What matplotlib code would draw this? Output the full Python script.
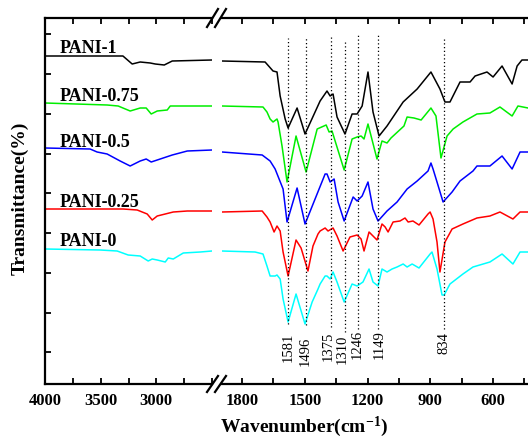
import matplotlib
matplotlib.use("Agg")
import matplotlib.pyplot as plt
from matplotlib.lines import Line2D
from matplotlib.ticker import MultipleLocator

plt.rcParams['font.family'] = ['Liberation Serif', 'DejaVu Serif']
plt.rcParams['mathtext.fontset'] = 'custom'
plt.rcParams['mathtext.rm'] = 'Liberation Serif:bold'
plt.rcParams['mathtext.bf'] = 'Liberation Serif:bold'
plt.rcParams['mathtext.default'] = 'bf'

# ---- data, transmittance in arbitrary units ----
names = ['PANI-1', 'PANI-0.75', 'PANI-0.5', 'PANI-0.25', 'PANI-0']
colors = ['black', '#00ee00', '#0000ff', '#ff0000', '#00ffff']

# high wavenumber part (4000 - 2500)
pani1_hi_wn = [4000, 3300, 3217, 3145, 3055, 3010, 2929, 2857, 2500]
pani1_hi_t = [328, 328, 320, 322, 321, 320, 319, 323, 324]
pani075_hi_wn = [4000, 3442, 3343, 3235, 3145, 3091, 3046, 2992, 2902, 2875, 2500]
pani075_hi_t = [281, 279, 278, 273, 276, 276, 270, 273, 274, 278, 278]
pani05_hi_wn = [4000, 3595, 3532, 3442, 3325, 3235, 3145, 3091, 3046, 2992, 2857, 2722, 2500]
pani05_hi_t = [236, 235, 232, 230, 223, 218, 223, 225, 222, 224, 229, 233, 234]
pani025_hi_wn = [4000, 3298, 3172, 3082, 3037, 2992, 2920, 2848, 2722, 2500]
pani025_hi_t = [175, 175, 174, 170, 164, 168, 170, 172, 173, 173]
pani0_hi_wn = [4000, 3505, 3352, 3253, 3145, 3073, 3037, 2992, 2920, 2893, 2848, 2758, 2605, 2500]
pani0_hi_t = [135, 134, 133, 129, 128, 123, 125, 124, 122, 126, 125, 131, 132, 133]

# fingerprint part (1900 - 430)
pani1_lo_wn = [1896, 1690, 1652, 1633, 1618, 1594, 1580, 1537, 1499, 1427,
               1394, 1379, 1365, 1346, 1308, 1274, 1250, 1226, 1198, 1174,
               1145, 1107, 1030, 963, 897, 854, 830, 806, 758, 710,
               686, 629, 600, 557, 509, 485, 462, 433]
pani1_lo_t = [323, 322, 313, 312, 288, 265, 256, 276, 250, 283,
              293, 288, 290, 267, 250, 270, 270, 278, 312, 272,
              248, 258, 282, 295, 312, 295, 282, 282, 302, 302,
              308, 312, 307, 318, 300, 318, 324, 324]
pani075_lo_wn = [1896, 1700, 1681, 1666, 1652, 1633, 1628, 1609, 1585, 1542,
                 1494, 1441, 1398, 1384, 1370, 1312, 1274, 1250, 1231, 1217,
                 1198, 1155, 1131, 1107, 1088, 1026, 1011, 978, 944, 897,
                 873, 849, 820, 791, 744, 677, 615, 567, 509, 481, 433]
pani075_lo_t = [278, 277, 272, 265, 262, 265, 262, 238, 202, 248,
                212, 255, 259, 252, 253, 214, 245, 247, 248, 245,
                260, 225, 243, 241, 246, 258, 267, 266, 264, 276,
                268, 226, 248, 255, 262, 270, 271, 277, 268, 278, 276]
pani05_lo_wn = [1896, 1704, 1666, 1642, 1604, 1585, 1537, 1499, 1451, 1403, 1394, 1379,
                1360, 1341, 1312, 1269, 1250, 1226, 1198, 1174, 1150, 1107,
                1059, 1011, 963, 911, 897, 887, 868, 839, 796, 758,
                696, 677, 615, 557, 509, 471, 433]
pani05_lo_t = [232, 229, 223, 215, 195, 162, 196, 160, 185, 210, 210, 202,
               205, 182, 163, 187, 183, 188, 202, 175, 163, 173,
               182, 195, 203, 213, 221, 215, 202, 182, 192, 203,
               213, 218, 218, 228, 215, 232, 232]
pani025_lo_wn = [1896, 1704, 1681, 1666, 1647, 1633, 1618, 1604, 1580, 1542,
                 1518, 1485, 1461, 1437, 1427, 1403, 1389, 1365, 1346, 1317,
                 1284, 1250, 1231, 1217, 1193, 1174, 1155, 1131, 1116, 1102,
                 1078, 1045, 1021, 1006, 983, 954, 911, 901, 887, 868,
                 854, 830, 796, 744, 677, 615, 567, 505, 471, 433]
pani025_lo_t = [172, 173, 167, 162, 152, 158, 153, 132, 108, 144,
                136, 113, 138, 150, 153, 156, 153, 156, 148, 133,
                147, 149, 145, 133, 152, 148, 144, 160, 157, 152,
                162, 163, 166, 162, 163, 159, 170, 172, 165, 142,
                112, 142, 155, 160, 166, 168, 172, 165, 172, 172]
pani0_lo_wn = [1896, 1738, 1700, 1681, 1666, 1642, 1633, 1618, 1604, 1580,
               1542, 1499, 1465, 1437, 1427, 1403, 1394, 1379, 1365, 1346,
               1312, 1274, 1250, 1222, 1193, 1174, 1150, 1131, 1107, 1083,
               1059, 1030, 1011, 987, 954, 901, 892, 868, 844, 834,
               806, 744, 696, 615, 557, 505, 471, 433]
pani0_lo_t = [133, 132, 130, 118, 108, 108, 109, 105, 85, 62,
              90, 60, 82, 95, 100, 108, 108, 105, 112, 102,
              82, 100, 98, 102, 115, 102, 98, 115, 112, 115,
              117, 120, 117, 120, 116, 130, 132, 115, 89, 89,
              100, 110, 117, 122, 130, 120, 132, 132]

# marked bands
band_wn = [1581, 1496, 1375, 1310, 1246, 1149, 834]
band_label_wn = [1581, 1496, 1387, 1323, 1250, 1145, 834]
band_top = [346, 346, 347, 344, 349, 350, 347]
band_bottom = [60, 59, 57, 52, 55, 55, 55]
band_label_top = [52, 48, 53, 50, 55, 55, 53]

label_t = [332, 284, 238, 178, 139]

hi = [(pani1_hi_wn, pani1_hi_t), (pani075_hi_wn, pani075_hi_t), (pani05_hi_wn, pani05_hi_t),
      (pani025_hi_wn, pani025_hi_t), (pani0_hi_wn, pani0_hi_t)]
lo = [(pani1_lo_wn, pani1_lo_t), (pani075_lo_wn, pani075_lo_t), (pani05_lo_wn, pani05_lo_t),
      (pani025_lo_wn, pani025_lo_t), (pani0_lo_wn, pani0_lo_t)]

W, H = 528, 439
fig = plt.figure(figsize=(W / 100, H / 100), dpi=100)
ax1 = fig.add_axes([45 / W, 1 - 385 / H, 167 / W, 366 / H])
ax2 = fig.add_axes([222 / W, 1 - 385 / H, 306 / W, 366 / H])

for (wn, t), c in zip(hi, colors):
    ax1.plot(wn, t, color=c, lw=1.1)
for (wn, t), c in zip(lo, colors):
    ax2.plot(wn, t, color=c, lw=1.1)

for name, t in zip(names, label_t):
    ax1.text(3865, t, name, fontsize=13, fontweight='bold', va='baseline', ha='left')

for wn, lwn, top, bot, ltop in zip(band_wn, band_label_wn, band_top, band_bottom, band_label_top):
    ax2.plot([wn, wn], [bot, top], color='black', ls=(0, (1, 2)), lw=0.9)
    ax2.text(lwn, ltop, str(wn), rotation=90, ha='center', va='top', fontsize=10.5,
             linespacing=1.0)

ax1.set_xlim(4000, 2500)
ax2.set_xlim(1896, 433)
for ax in (ax1, ax2):
    ax.set_ylim(0, 366)
    for s in ax.spines.values():
        s.set_linewidth(1.6)
    ax.tick_params(axis='x', which='both', direction='in', top=True, length=4, width=1.3,
                   labelsize=12, pad=6)

ax1.xaxis.set_minor_locator(MultipleLocator(250))
ax2.xaxis.set_minor_locator(MultipleLocator(150))
ax1.set_xticks([4000, 3500, 3000])
ax1.set_xticklabels(['4000', '3500', '3000'], fontweight='bold')
ax2.set_xticks([1800, 1500, 1200, 900, 600])
ax2.set_xticklabels(['1800', '1500', '1200', '900', '600'], fontweight='bold')

ax1.spines['right'].set_visible(False)
ax2.spines['left'].set_visible(False)
ax2.spines['right'].set_visible(False)
ax1.set_yticks([32, 71.5, 111, 151, 191, 230.5, 270, 310, 350])
ax1.tick_params(axis='y', direction='in', length=4, width=1.3, labelleft=False)
ax2.set_yticks([])

# axis break marks
for y0, y1 in ((28, 10), (393, 377)):
    for dx in (0, 8):
        fig.add_artist(Line2D([(207 + dx) / W, (218 + dx) / W], [1 - y0 / H, 1 - y1 / H],
                              transform=fig.transFigure, color='black', lw=1.6))

fig.text(20 / W, 1 - 198 / H, 'Transmittance(%)', rotation=90, ha='center', va='center',
         fontsize=14, fontweight='bold')
fig.text(304 / W, 1 - 427 / H, r'Wavenumber(cm$^{\mathbf{-1}}$)', ha='center', va='center',
         fontsize=14, fontweight='bold')

fig.savefig('out.png', dpi=100)
